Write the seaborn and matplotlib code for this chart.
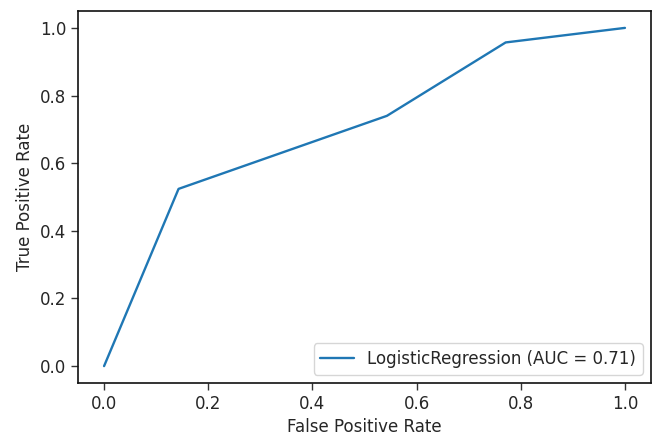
import matplotlib
matplotlib.use("Agg")
import matplotlib.pyplot as plt
import seaborn as sns
import pandas as pd

# ROC points
fpr = [0.0, 0.143, 0.543, 0.771, 1.0]
tpr = [0.0, 0.524, 0.740, 0.957, 1.0]
label = "LogisticRegression (AUC = 0.71)"

sns.set_style("ticks")
plt.rcParams["font.family"] = ["DejaVu Sans"]

df = pd.DataFrame({"fpr": fpr, "tpr": tpr, "model": label})

fig = plt.figure(figsize=(6.54, 4.43), dpi=100)
ax = fig.add_axes([0.1193, 0.1354, 0.8761, 0.8398])
sns.lineplot(data=df, x="fpr", y="tpr", hue="model", sort=False,
             palette=["#1f77b4"], linewidth=1.7, ax=ax)

ax.set_xlim(-0.05, 1.05)
ax.set_ylim(-0.05, 1.05)
ax.set_xticks([0.0, 0.2, 0.4, 0.6, 0.8, 1.0])
ax.set_yticks([0.0, 0.2, 0.4, 0.6, 0.8, 1.0])
ax.tick_params(labelsize=12, length=5, width=1, color="#333333")
ax.set_xlabel("False Positive Rate", fontsize=12)
ax.set_ylabel("True Positive Rate", fontsize=12)
for s in ax.spines.values():
    s.set_linewidth(1.2)
    s.set_color("#111111")
ax.legend(loc="lower right", fontsize=12, title=None)

fig.savefig("out.png", dpi=100)
